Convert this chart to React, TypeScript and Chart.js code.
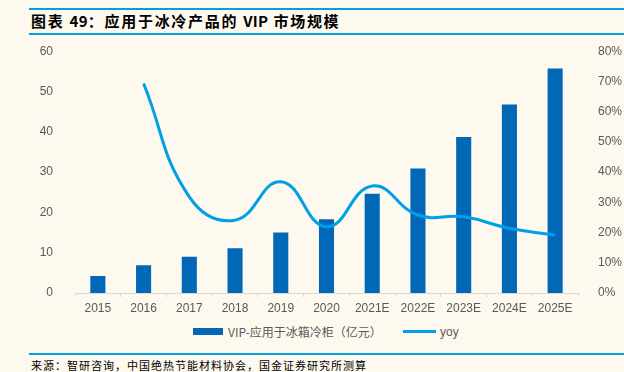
import React, { useEffect, useRef } from "react";
import { Chart, registerables } from "chart.js";

Chart.register(...registerables);

const categories = ["2015", "2016", "2017", "2018", "2019", "2020", "2021E", "2022E", "2023E", "2024E", "2025E"];
const vipMarket = [4.2, 6.9, 9.0, 11.1, 15.0, 18.3, 24.6, 30.9, 38.7, 46.8, 55.7];
const yoy = [null, 0.693, 0.318, 0.241, 0.368, 0.219, 0.354, 0.258, 0.252, 0.214, 0.192];
const leftTicks = [0, 10, 20, 30, 40, 50, 60];
const rightTicks = [0, 0.1, 0.2, 0.3, 0.4, 0.5, 0.6, 0.7, 0.8];

const BG = "#FEF9EF";
const BAR = "#0068B7";
const LINE = "#00A0E9";
const TXT = "#595959";
const FONT = "'Liberation Sans', Arial, sans-serif";
const CJK = "'Noto Sans CJK SC', 'Liberation Sans', sans-serif";

export default function App() {
  const ref = useRef<HTMLCanvasElement | null>(null);

  useEffect(() => {
    if (!ref.current) return;
    const chart = new Chart(ref.current, {
      type: "bar",
      data: {
        labels: categories,
        datasets: [
          {
            type: "line",
            label: "yoy",
            data: yoy as any,
            yAxisID: "y1",
            borderColor: LINE,
            backgroundColor: LINE,
            borderWidth: 3,
            pointRadius: 0,
            tension: 0.45,
            order: 0,
          } as any,
          {
            type: "bar",
            label: "VIP-应用于冰箱冷柜（亿元）",
            data: vipMarket,
            yAxisID: "y",
            backgroundColor: BAR,
            barPercentage: 0.33,
            categoryPercentage: 1,
            order: 1,
          },
        ],
      },
      options: {
        animation: false,
        responsive: false,
        maintainAspectRatio: false,
        layout: { padding: { top: 1, bottom: 0, left: 0, right: 0 } },
        plugins: { legend: { display: false }, tooltip: { enabled: false } },
        scales: {
          x: {
            offset: true,
            grid: {
              offset: true,
              drawOnChartArea: false,
              drawTicks: true,
              tickLength: 4,
              color: "#D9D9D9",
            },
            border: { display: true, color: "#D9D9D9", width: 1 },
            ticks: { color: TXT, font: { family: FONT, size: 12 }, padding: 4, maxRotation: 0, autoSkip: false },
            afterFit: (s: any) => { s.height = 27; },
          },
          y: {
            position: "left",
            min: 0,
            max: 60,
            afterBuildTicks: (s: any) => { s.ticks = leftTicks.map((v) => ({ value: v })); },
            grid: { display: false },
            border: { display: false },
            ticks: { color: TXT, font: { family: FONT, size: 12 }, padding: 14 },
            afterFit: (s: any) => { s.width = 75; },
          },
          y1: {
            position: "right",
            min: 0,
            max: 0.8,
            afterBuildTicks: (s: any) => { s.ticks = rightTicks.map((v) => ({ value: v })); },
            grid: { display: false },
            border: { display: false },
            ticks: {
              color: TXT,
              font: { family: FONT, size: 12 },
              padding: 12,
              callback: (v: any) => Math.round(Number(v) * 100) + "%",
            },
            afterFit: (s: any) => { s.width = 46; },
          },
        },
      } as any,
    });
    return () => chart.destroy();
  }, []);

  const latin = { letterSpacing: 0.3 };

  return (
    <div style={{ position: "absolute", left: 0, top: 0, width: 624, height: 372, background: BG, overflow: "hidden" }}>
      <div style={{ position: "absolute", left: 29, right: 0, top: 8, height: 2, background: LINE }} />
      <div
        style={{
          position: "absolute",
          left: 31,
          top: 10,
          height: 22,
          lineHeight: "22px",
          fontFamily: CJK,
          fontWeight: "bold",
          fontSize: 15,
          letterSpacing: 1.7,
          color: "#000",
          whiteSpace: "nowrap",
        }}
      >
        图表 <span style={latin}>49</span>：应用于冰冷产品的 <span style={latin}>VIP</span> 市场规模
      </div>
      <div style={{ position: "absolute", left: 29, right: 0, top: 33, height: 2, background: LINE }} />
      <canvas ref={ref} width={624} height={290} style={{ position: "absolute", left: 0, top: 30, width: 624, height: 290 }} />
      <div style={{ position: "absolute", left: 193, top: 328, width: 30, height: 7, background: BAR }} />
      <div style={{ position: "absolute", left: 228, top: 324, lineHeight: "16px", fontSize: 12, fontFamily: CJK, color: TXT, whiteSpace: "nowrap" }}>
        VIP-应用于冰箱冷柜（亿元）
      </div>
      <div style={{ position: "absolute", left: 403, top: 330, width: 33, height: 3, background: LINE }} />
      <div style={{ position: "absolute", left: 440, top: 324, lineHeight: "16px", fontSize: 12, fontFamily: FONT, color: TXT, whiteSpace: "nowrap" }}>
        yoy
      </div>
      <div style={{ position: "absolute", left: 29, right: 0, top: 353, height: 2, background: LINE }} />
      <div
        style={{
          position: "absolute",
          left: 31,
          top: 357,
          lineHeight: "16px",
          fontSize: 11,
          letterSpacing: 1,
          fontFamily: CJK,
          color: "#000",
          whiteSpace: "nowrap",
        }}
      >
        来源：智研咨询，中国绝热节能材料协会，国金证券研究所测算
      </div>
    </div>
  );
}
